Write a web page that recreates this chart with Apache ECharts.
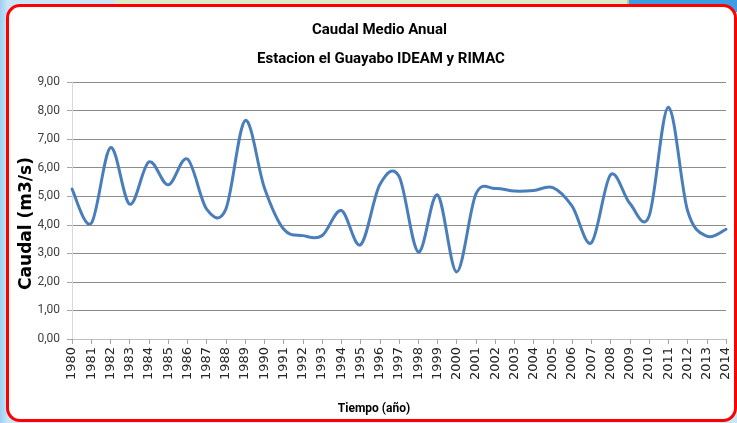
<!DOCTYPE html>
<html>
<head>
<meta charset="utf-8">
<script src="https://cdn.jsdelivr.net/npm/echarts@6/dist/echarts.min.js"></script>
<style>
  html, body { margin: 0; padding: 0; width: 737px; height: 423px; overflow: hidden; }
  body { background: linear-gradient(90deg, #9fd0f2 0px, #c9e6f8 8px, #c9e6f8 100%); position: relative; }
  #greenstrip { position: absolute; left: 115px; top: 0; width: 512px; height: 8px; background: #d8eecb; border-right: 2px solid #b9c3b4; }
  #bluestrip { position: absolute; left: 629px; top: 0; width: 108px; height: 12px; background: #3d9de2; }
  #box { position: absolute; left: 6px; top: 4px; width: 725px; height: 412px; border: 3px solid #ff0000; border-radius: 14px; background: #ffffff; }
  #chart { position: absolute; left: 0; top: 0; width: 737px; height: 423px; }
</style>
</head>
<body>
<div id="greenstrip"></div>
<div id="bluestrip"></div>
<div id="box"></div>
<div id="chart"></div>
<script>
const years = ['1980','1981','1982','1983','1984','1985','1986','1987','1988','1989',
  '1990','1991','1992','1993','1994','1995','1996','1997','1998','1999',
  '2000','2001','2002','2003','2004','2005','2006','2007','2008','2009',
  '2010','2011','2012','2013','2014'];
const caudal = [5.25, 4.05, 6.70, 4.72, 6.20, 5.40, 6.30, 4.55, 4.55, 7.65,
  5.30, 3.85, 3.62, 3.62, 4.50, 3.30, 5.40, 5.70, 3.05, 5.05,
  2.35, 5.08, 5.27, 5.18, 5.20, 5.30, 4.65, 3.37, 5.75, 4.75,
  4.30, 8.12, 4.50, 3.60, 3.84];
const titleLine1 = 'Caudal Medio Anual';
const titleLine2 = 'Estacion el Guayabo IDEAM y RIMAC';
const xName = 'Tiempo (año)';
const yName = 'Caudal (m3/s)';

const titleFont = 'Roboto, "Liberation Sans", sans-serif';
const titleSize = 15;

// measure text so the titles can be centred on the chart frame (x ≈ 379)
function measure(text, font) {
  const c = document.createElement('canvas').getContext('2d');
  c.font = font;
  return c.measureText(text).width;
}
const titleCenter = 379;
const w1 = measure(titleLine1, 'bold ' + titleSize + 'px ' + titleFont);
const w2 = measure(titleLine2, 'bold ' + titleSize + 'px ' + titleFont);

const chart = echarts.init(document.getElementById('chart'), null, { renderer: 'canvas' });
chart.setOption({
  backgroundColor: 'transparent',
  animation: false,
  title: [
    { text: titleLine1, left: Math.round(titleCenter - w1 / 2), top: 23, padding: 0,
      textStyle: { fontFamily: titleFont, fontWeight: 'bold', fontSize: titleSize, color: '#000000' } },
    { text: titleLine2, left: Math.round(titleCenter + 2 - w2 / 2), top: 52, padding: 0,
      textStyle: { fontFamily: titleFont, fontWeight: 'bold', fontSize: titleSize, color: '#000000' } }
  ],
  grid: { left: 72, right: 11, top: 82, bottom: 84, containLabel: false },
  xAxis: {
    type: 'category',
    data: years,
    boundaryGap: false,
    name: xName,
    nameLocation: 'middle',
    nameGap: 64,
    nameTextStyle: { fontFamily: titleFont, fontWeight: 'bold', fontSize: 12, color: '#000000', padding: [0, 50, 0, 0] },
    axisLine: { show: true, lineStyle: { color: '#bfbfbf', width: 1 } },
    axisTick: { show: true, interval: 0, length: 5, lineStyle: { color: '#a6a6a6' } },
    axisLabel: { interval: 0, rotate: 90, margin: 8, fontFamily: '"DejaVu Sans", sans-serif', fontSize: 13, color: '#262626' },
    splitLine: { show: false }
  },
  yAxis: {
    type: 'value',
    min: 0, max: 9, interval: 1,
    name: yName,
    nameLocation: 'middle',
    nameMoveOverlap: false,
    nameGap: 37,
    nameTextStyle: { fontFamily: '"DejaVu Sans", sans-serif', fontWeight: 'bold', fontSize: 17, color: '#000000', padding: [0, 26, 0, 0] },
    axisLine: { show: true, lineStyle: { color: '#d9d9d9', width: 1 } },
    axisTick: { show: true, length: 5, lineStyle: { color: '#a6a6a6' } },
    axisLabel: { margin: 12, fontFamily: 'Roboto, sans-serif', fontSize: 12, color: '#404040',
      formatter: v => v.toFixed(2).replace('.', ',') },
    splitLine: { show: true, lineStyle: { color: '#8c8c8c', width: 1 } }
  },
  series: [{
    name: 'Caudal',
    type: 'custom',
    coordinateSystem: 'cartesian2d',
    data: caudal.map((v, i) => [i, v]),
    encode: { x: 0, y: 1 },
    clip: false,
    // Excel-style smoothed line (Catmull-Rom through every data point, positioned by the axes)
    renderItem: function (params, api) {
      if (params.dataIndex !== 0) return null;
      const pts = caudal.map((v, i) => api.coord([i, v]));
      const n = pts.length;
      let d = 'M' + pts[0][0] + ' ' + pts[0][1];
      for (let i = 0; i < n - 1; i++) {
        const p0 = pts[i > 0 ? i - 1 : i];
        const p1 = pts[i];
        const p2 = pts[i + 1];
        const p3 = pts[i + 2 < n ? i + 2 : i + 1];
        const c1x = p1[0] + (p2[0] - p0[0]) / 6, c1y = p1[1] + (p2[1] - p0[1]) / 6;
        const c2x = p2[0] - (p3[0] - p1[0]) / 6, c2y = p2[1] - (p3[1] - p1[1]) / 6;
        d += ' C' + c1x + ' ' + c1y + ' ' + c2x + ' ' + c2y + ' ' + p2[0] + ' ' + p2[1];
      }
      return {
        type: 'path',
        shape: { pathData: d },
        style: { fill: 'none', stroke: '#4a7ebb', lineWidth: 3, lineJoin: 'round', lineCap: 'round' },
        silent: true
      };
    }
  }]
});
</script>
</body>
</html>
